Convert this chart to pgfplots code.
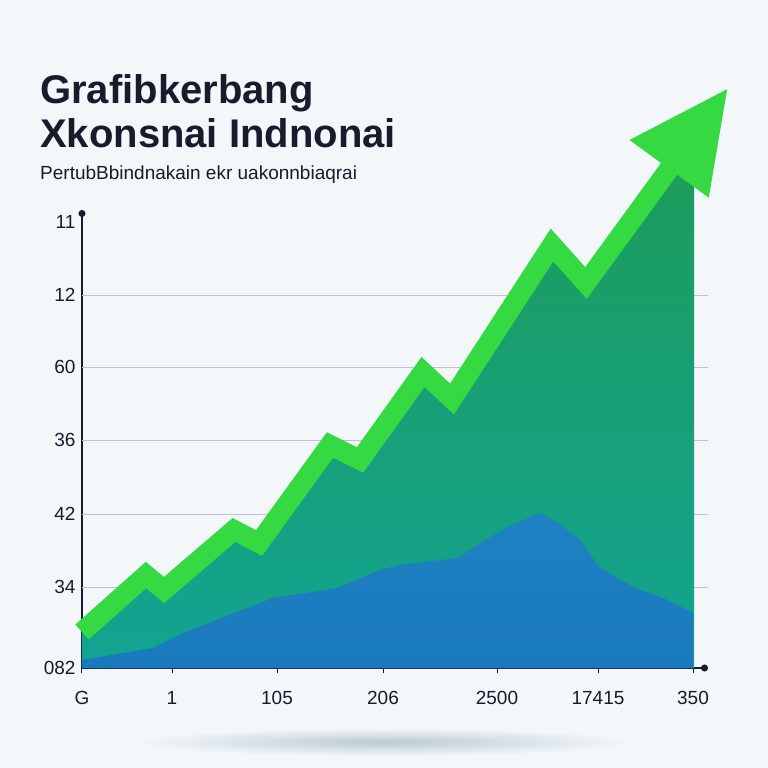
\documentclass[border=0pt]{standalone}
\usepackage{pgfplots}
\pgfplotsset{compat=1.18}
\usepackage{fontspec}
\setmainfont{Liberation Sans}
\usetikzlibrary{arrows.meta}
\definecolor{bg}{HTML}{F4F7FA}
\definecolor{navy}{HTML}{161C2C}
\definecolor{lgreen}{HTML}{35DA42}
\definecolor{agreen}{HTML}{1D9C58}
\definecolor{ateal}{HTML}{12A393}
\definecolor{ablue}{HTML}{1D82C2}
\definecolor{ablue2}{HTML}{1A79BD}
\definecolor{gridc}{HTML}{BFC3C8}
\definecolor{shadowc}{HTML}{B9CAD3}
\begin{document}
\begin{tikzpicture}
\fill[bg] (-82pt,-100pt) rectangle (686pt,668pt);
\useasboundingbox (-82pt,-100pt) rectangle (686pt,668pt);
\shade[inner color=shadowc, outer color=bg] (302pt,-74pt) ellipse (250pt and 14pt);
\node[anchor=base west, inner sep=0, text=navy, font=\bfseries\fontsize{40}{40}\selectfont] at (-42pt,564pt) {Grafibkerbang};
\node[anchor=base west, inner sep=0, text=navy, font=\bfseries\fontsize{40}{40}\selectfont] at (-42pt,520pt) {Xkonsnai Indnonai};
\node[anchor=base west, inner sep=0, text=navy, font=\fontsize{19}{19}\selectfont] at (-42pt,488pt) {PertubBbindnakain ekr uakonnbiaqrai};
\begin{axis}[
  at={(0pt,0pt)}, anchor=south west,
  scale only axis, width=626pt, height=458pt,
  xmin=82, xmax=708, ymin=0, ymax=458,
  clip=false,
  axis x line=bottom, axis y line=left,
  axis line style={draw=navy, line width=1.3pt},
  x axis line style={-{Circle[length=7pt]}},
  y axis line style={-{Circle[length=7pt]}},
  xtick={82,172,277,383,497,598,693},
  xticklabels={G,1,105,206,2500,17415,350},
  ytick={0,81,154,228,301,373,446},
  yticklabels={082,34,42,36,60,12,11},
  tick align=outside,
  major tick length=5pt,
  xtick style={draw=navy, line width=1pt},
  ytick style={draw=none},
  ticklabel style={font=\fontsize{19}{19}\selectfont, text=navy},
  xticklabel style={yshift=-15pt},
  yticklabel style={xshift=2pt},
  /pgf/number format/assume math mode=true,
  extra y ticks={81,154,228,301,373},
  extra y tick labels={},
  extra y tick style={grid=major, major grid style={draw=gridc, line width=0.9pt}, tick style={draw=none}},
]
\addplot[draw=none, top color=agreen, bottom color=ateal] coordinates {
 (82,36) (146,93) (164,78) (234,138) (259,125) (330,223) (360,208)
 (423,296) (452,269) (552,423) (586,385) (694,533)} \closedcycle;
\addplot[draw=none, top color=ablue, bottom color=ablue2] coordinates {
 (82,8) (153,20) (183,35) (273,70) (293,73) (337,80) (380,98) (400,103)
 (457,110) (507,141) (540,155) (557,146) (580,128) (600,100) (633,81)
 (663,70) (693,55)} \closedcycle;
\addplot[draw=lgreen, line width=20pt, line join=miter, -{Triangle[length=100pt,width=92pt]}] coordinates {
 (82,36) (146,93) (164,78) (234,138) (259,125) (330,223) (360,208)
 (423,296) (452,269) (552,423) (586,385) (728,580)};
\end{axis}
\end{tikzpicture}
\end{document}
